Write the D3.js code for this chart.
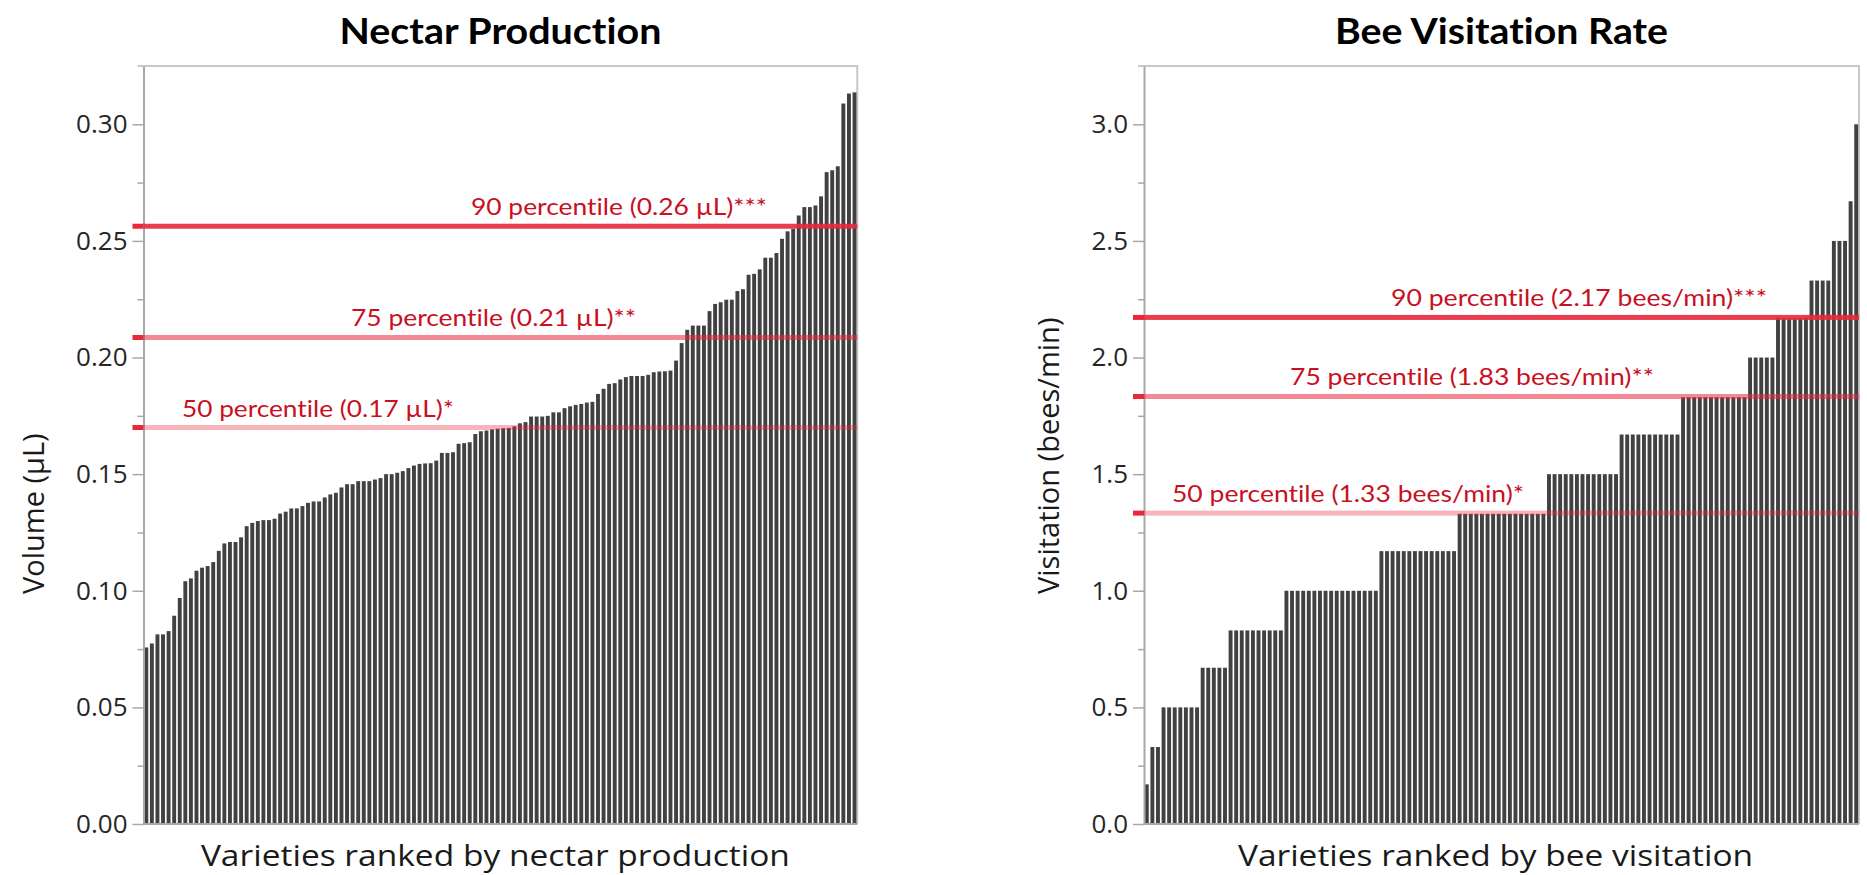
<!DOCTYPE html>
<html>
<head>
<meta charset="utf-8">
<script src="https://cdn.jsdelivr.net/npm/d3@7/dist/d3.min.js"></script>
<style>
    body { margin: 0; background: #fff; }
    svg { display: block; }
    text { font-variant-ligatures: none; font-feature-settings: "liga" 0, "dlig" 0; }
</style>
</head>
<body>
<div id="container"></div>
<script>
// ranked nectar volume (µL), one bar per variety
const nectarVolume = [
    0.0757, 0.0774, 0.0813, 0.0813, 0.0827, 0.0893, 0.0969, 0.1041, 0.1053, 0.1086,
    0.1099, 0.1106, 0.1123, 0.1171, 0.1203, 0.1209, 0.1209, 0.1229, 0.1277, 0.1291,
    0.1299, 0.1303, 0.1303, 0.1309, 0.1331, 0.1339, 0.1353, 0.1353, 0.1363, 0.1377,
    0.1383, 0.1383, 0.1400, 0.1413, 0.1420, 0.1443, 0.1457, 0.1457, 0.1470, 0.1470,
    0.1470, 0.1477, 0.1483, 0.1500, 0.1500, 0.1506, 0.1513, 0.1526, 0.1537, 0.1544,
    0.1546, 0.1547, 0.1558, 0.1591, 0.1591, 0.1594, 0.1630, 0.1633, 0.1637, 0.1672,
    0.1684, 0.1687, 0.1692, 0.1695, 0.1697, 0.1698, 0.1705, 0.1718, 0.1723, 0.1747,
    0.1747, 0.1747, 0.1750, 0.1765, 0.1765, 0.1783, 0.1791, 0.1797, 0.1801, 0.1807,
    0.1810, 0.1844, 0.1866, 0.1887, 0.1890, 0.1906, 0.1916, 0.1921, 0.1921, 0.1921,
    0.1926, 0.1937, 0.1940, 0.1941, 0.1944, 0.1987, 0.2062, 0.2119, 0.2137, 0.2137,
    0.2137, 0.2199, 0.2230, 0.2237, 0.2248, 0.2248, 0.2285, 0.2293, 0.2355, 0.2359,
    0.2378, 0.2428, 0.2428, 0.2448, 0.2509, 0.2541, 0.2552, 0.2609, 0.2645, 0.2645,
    0.2652, 0.2691, 0.2795, 0.2803, 0.2820, 0.3089, 0.3132, 0.3137
]

// ranked bee visitation (bees/min)
const beeVisitation = [
    0.17, 0.33, 0.33, 0.5, 0.5, 0.5, 0.5, 0.5, 0.5, 0.5,
    0.67, 0.67, 0.67, 0.67, 0.67, 0.83, 0.83, 0.83, 0.83, 0.83,
    0.83, 0.83, 0.83, 0.83, 0.83, 1, 1, 1, 1, 1,
    1, 1, 1, 1, 1, 1, 1, 1, 1, 1,
    1, 1, 1.17, 1.17, 1.17, 1.17, 1.17, 1.17, 1.17, 1.17,
    1.17, 1.17, 1.17, 1.17, 1.17, 1.17, 1.33, 1.33, 1.33, 1.33,
    1.33, 1.33, 1.33, 1.33, 1.33, 1.33, 1.33, 1.33, 1.33, 1.33,
    1.33, 1.33, 1.5, 1.5, 1.5, 1.5, 1.5, 1.5, 1.5, 1.5,
    1.5, 1.5, 1.5, 1.5, 1.5, 1.67, 1.67, 1.67, 1.67, 1.67,
    1.67, 1.67, 1.67, 1.67, 1.67, 1.67, 1.83, 1.83, 1.83, 1.83,
    1.83, 1.83, 1.83, 1.83, 1.83, 1.83, 1.83, 1.83, 2, 2,
    2, 2, 2, 2.17, 2.17, 2.17, 2.17, 2.17, 2.17, 2.33,
    2.33, 2.33, 2.33, 2.5, 2.5, 2.5, 2.67, 3
]

const nectarTicks = [0, 0.05, 0.10, 0.15, 0.20, 0.25, 0.30]
const nectarMinorTicks = [0.025, 0.075, 0.125, 0.175, 0.225, 0.275]
const beeTicks = [0, 0.5, 1.0, 1.5, 2.0, 2.5, 3.0]
const beeMinorTicks = [0.25, 0.75, 1.25, 1.75, 2.25, 2.75]

const nectarPercentiles = [0.170, 0.2086, 0.2563]
const nectarPercentileLabels = ["50 percentile (0.17 µL)*", "75 percentile (0.21 µL)**", "90 percentile (0.26 µL)***"]
const beePercentiles = [1.333, 1.833, 2.172]
const beePercentileLabels = ["50 percentile (1.33 bees/min)*", "75 percentile (1.83 bees/min)**", "90 percentile (2.17 bees/min)***"]

const RED = "#e8283c"
const LABEL_RED = "#c8101f"
const lineOpacity = [0.35, 0.55, 0.9]

const plotTop = 66
const plotBottom = 824

const drawPanel = (svg, values, ticks, minorTicks, pcts, pctLabels, spec) => {
    const g = svg.append("g")

    const x = d3.scaleBand()
        .domain(d3.range(values.length))
        .range([spec.left, spec.right])
        .paddingInner(0.3)
        .paddingOuter(0.15)
    const y = d3.scaleLinear().domain([0, spec.yMax]).range([plotBottom, plotTop])

    // frame (top + right)
    g.append("path")
        .attr("d", `M${spec.left - 6},${y(spec.yMax)}H${spec.right}V${y(0)}`)
        .attr("fill", "none")
        .attr("stroke", "#c8c8c8")
        .attr("stroke-width", 2)

    // bars
    g.selectAll(".bar")
        .data(values)
        .enter()
        .append("rect")
        .attr("class", "bar")
        .attr("x", (d, i) => x(i))
        .attr("width", x.bandwidth())
        .attr("y", d => y(d))
        .attr("height", d => y(0) - y(d))
        .attr("fill", "#414141")

    // baseline
    g.append("line")
        .attr("x1", spec.left).attr("x2", spec.right)
        .attr("y1", y(0)).attr("y2", y(0))
        .attr("stroke", "#a8a8a8")
        .attr("stroke-width", 2)

    // minor ticks
    const minor = g.append("g")
        .attr("transform", `translate(${spec.left},0)`)
        .call(d3.axisLeft(y).tickValues(minorTicks).tickSize(6).tickSizeOuter(0).tickFormat(""))
    minor.select(".domain").remove()
    minor.selectAll("line").attr("stroke", "#a8a8a8").attr("stroke-width", 1.5)

    // major axis
    const axis = g.append("g")
        .attr("transform", `translate(${spec.left},0)`)
        .call(d3.axisLeft(y).tickValues(ticks).tickSize(11).tickSizeOuter(0).tickPadding(5)
            .tickFormat(d3.format(spec.fmt)))
    axis.select(".domain").attr("stroke", "#a8a8a8").attr("stroke-width", 2)
    axis.selectAll(".tick line").attr("stroke", "#a8a8a8").attr("stroke-width", 1.5)
    axis.selectAll(".tick text")
        .attr("font-family", "'Open Sans', sans-serif")
        .attr("font-size", 26)
        .attr("fill", "#262626")

    // percentile lines
    pcts.forEach((p, i) => {
        g.append("rect")
            .attr("x", spec.left).attr("width", spec.right - spec.left)
            .attr("y", y(p) - 2.5).attr("height", 5)
            .attr("fill", RED)
            .attr("opacity", lineOpacity[i])
        g.append("rect")
            .attr("x", spec.left - 11).attr("width", 11)
            .attr("y", y(p) - 2.5).attr("height", 5)
            .attr("fill", RED)
        g.append("text")
            .attr("x", spec.labelX[i])
            .attr("y", y(p) - 11)
            .attr("font-family", "Lato, sans-serif")
            .attr("font-size", 24)
            .attr("fill", LABEL_RED)
            .attr("textLength", spec.labelW[i])
            .attr("lengthAdjust", "spacingAndGlyphs")
            .text(pctLabels[i])
    })

    const mid = (spec.left + spec.right) / 2

    g.append("text")
        .attr("x", mid).attr("y", 44)
        .attr("text-anchor", "middle")
        .attr("font-family", "Lato, sans-serif")
        .attr("font-weight", 700)
        .attr("font-size", 37)
        .attr("fill", "#000")
        .attr("textLength", spec.titleW)
        .attr("lengthAdjust", "spacingAndGlyphs")
        .text(spec.title)

    g.append("text")
        .attr("x", mid + spec.xLabelShift).attr("y", 866)
        .attr("text-anchor", "middle")
        .attr("font-family", "'Open Sans', sans-serif")
        .attr("font-size", 29)
        .attr("fill", "#1a1a1a")
        .attr("textLength", spec.xLabelW)
        .attr("lengthAdjust", "spacingAndGlyphs")
        .text(spec.xLabel)

    // axis title, its start sits just below the plot middle
    g.append("text")
        .attr("transform", `translate(${spec.yLabelX},594) rotate(-90)`)
        .attr("text-anchor", "start")
        .attr("font-family", "'Open Sans', sans-serif")
        .attr("font-size", 29)
        .attr("fill", "#1a1a1a")
        .text(spec.yLabel)
}

const svg = d3.select("#container")
    .append("svg").attr("width", 1867).attr("height", 875)

svg.append("rect").attr("width", 1867).attr("height", 875).attr("fill", "#fff")

drawPanel(svg, nectarVolume, nectarTicks, nectarMinorTicks, nectarPercentiles, nectarPercentileLabels, {
    left: 143.5, right: 857.3, yMax: 0.325, fmt: ".2f",
    title: "Nectar Production", titleW: 322,
    xLabel: "Varieties ranked by nectar production", xLabelW: 589, xLabelShift: -5,
    yLabel: "Volume (µL)", yLabelX: 44,
    labelX: [182, 351, 471], labelW: [272, 285, 296]
})

drawPanel(svg, beeVisitation, beeTicks, beeMinorTicks, beePercentiles, beePercentileLabels, {
    left: 1144, right: 1859, yMax: 3.25, fmt: ".1f",
    title: "Bee Visitation Rate", titleW: 333,
    xLabel: "Varieties ranked by bee visitation", xLabelW: 515, xLabelShift: -6,
    yLabel: "Visitation (bees/min)", yLabelX: 1059,
    labelX: [1172, 1290, 1391], labelW: [352, 364, 376]
})
</script>
</body>
</html>
